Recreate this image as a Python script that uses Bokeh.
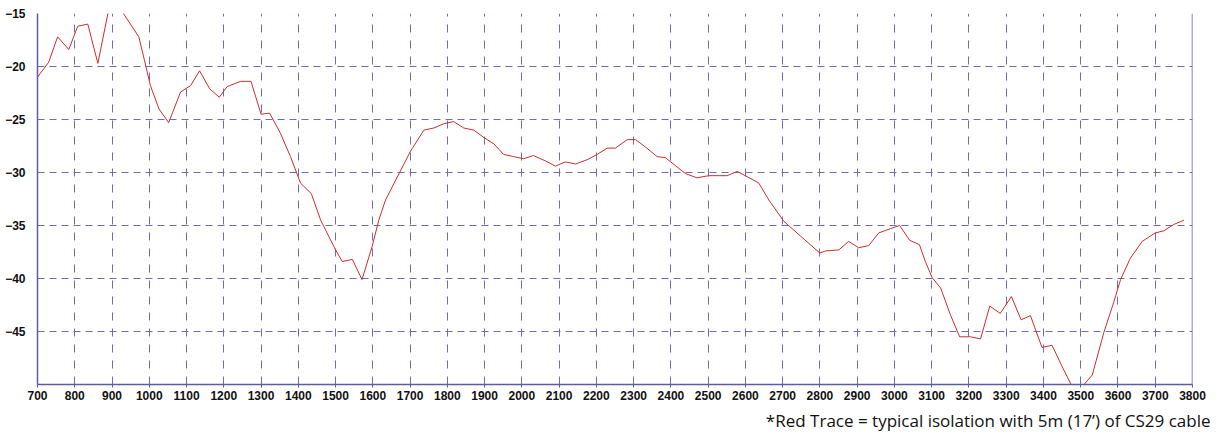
from bokeh.plotting import figure
from bokeh.models import FixedTicker, Span, Range1d, Title
from bokeh.embed import file_html
from bokeh.resources import INLINE

freq = [700, 730, 754, 784, 808, 835, 862, 889, 910, 923, 972, 987, 1003, 1026, 1052,
        1084, 1111, 1135, 1162, 1188, 1209, 1245, 1273, 1300, 1323, 1352, 1379, 1406,
        1435, 1460, 1500, 1518, 1545, 1571, 1598, 1616, 1634, 1701, 1737, 1764, 1790,
        1817, 1844, 1871, 1898, 1925, 1951, 1978, 2005, 2031, 2063, 2090, 2117, 2144,
        2175, 2202, 2229, 2251, 2283, 2305, 2332, 2363, 2385, 2403, 2439, 2470, 2502,
        2551, 2578, 2605, 2636, 2663, 2703, 2748, 2800, 2815, 2851, 2877, 2904, 2931,
        2958, 2989, 3014, 3041, 3067, 3083, 3101, 3124, 3150, 3175, 3204, 3231, 3256,
        3284, 3314, 3340, 3365, 3396, 3423, 3450, 3477, 3504, 3531, 3562, 3589, 3607,
        3633, 3665, 3700, 3723, 3750, 3777]
isolation = [-21.0, -19.6, -17.2, -18.4, -16.2, -16.0, -19.7, -15.0, -14.3, -14.6, -17.2,
             -19.4, -21.8, -24.0, -25.3, -22.4, -21.8, -20.4, -22.1, -22.9, -21.9, -21.4,
             -21.4, -24.5, -24.4, -26.3, -28.5, -31.0, -32.0, -34.5, -37.3, -38.4, -38.2,
             -40.1, -37.0, -34.5, -32.6, -28.0, -26.0, -25.8, -25.4, -25.2, -25.8, -26.0,
             -26.7, -27.3, -28.3, -28.5, -28.7, -28.4, -28.9, -29.4, -29.0, -29.2, -28.8,
             -28.3, -27.7, -27.7, -26.9, -26.9, -27.6, -28.5, -28.6, -29.1, -30.1, -30.5,
             -30.3, -30.3, -29.9, -30.4, -31.0, -32.6, -34.6, -36.0, -37.6, -37.4, -37.3,
             -36.5, -37.1, -36.9, -35.7, -35.3, -35.0, -36.4, -36.8, -38.4, -39.9, -40.9,
             -43.4, -45.5, -45.5, -45.7, -42.6, -43.3, -41.7, -43.9, -43.5, -46.5, -46.3,
             -48.3, -50.2, -50.2, -49.1, -45.1, -42.2, -40.1, -38.1, -36.5, -35.7, -35.5,
             -34.9, -34.5]

x_ticks = list(range(700, 3801, 100))
y_ticks = [-45, -40, -35, -30, -25, -20, -15]
x_grid = list(range(800, 3701, 100))
y_grid = [-45, -40, -35, -30, -25, -20]
caption = "*Red Trace = typical isolation with 5m (17\u2019) of CS29 cable"

axis_col = "#5c5ca3"
grid_col = "#6e6ea8"

p = figure(width=1218, height=436, output_backend="svg", toolbar_location=None,
           x_range=Range1d(700, 3800), y_range=Range1d(-50, -15),
           min_border_left=37, min_border_right=26, min_border_top=13, min_border_bottom=51)
p.outline_line_color = None
p.background_fill_color = "white"

p.line(freq, isolation, line_color="#cc2e2e", line_width=1)

p.xaxis.ticker = FixedTicker(ticks=x_ticks)
p.yaxis.ticker = FixedTicker(ticks=y_ticks)
p.xgrid.ticker = FixedTicker(ticks=x_grid)
p.ygrid.ticker = FixedTicker(ticks=y_grid)

p.xgrid.grid_line_color = grid_col
p.xgrid.grid_line_dash = "8 8"
p.xgrid.grid_line_width = 1
p.ygrid.grid_line_color = grid_col
p.ygrid.grid_line_dash = "7 5"
p.ygrid.grid_line_width = 1

for ax in (p.xaxis, p.yaxis):
    ax.axis_line_color = axis_col
    ax.axis_line_width = 1.5
    ax.major_tick_line_color = axis_col
    ax.minor_tick_line_color = None
    ax.major_label_text_font = "Liberation Sans"
    ax.major_label_text_font_style = "bold"
    ax.major_label_text_font_size = "12px"
    ax.major_label_text_color = "#111111"

p.xaxis.major_tick_in = 0
p.xaxis.major_tick_out = 3
p.xaxis.major_label_standoff = 3
p.yaxis.major_tick_in = 0
p.yaxis.major_tick_out = 0
p.yaxis.major_label_standoff = 12

p.add_layout(Span(location=3800, dimension="height", line_color=axis_col, line_width=1.5))

p.add_layout(Title(text=caption, align="right", offset=-18, standoff=9,
                   text_font="Open Sans", text_font_style="normal",
                   text_font_size="17px", text_color="#111111"), "below")

open("out.html", "w").write(file_html(p, INLINE))
